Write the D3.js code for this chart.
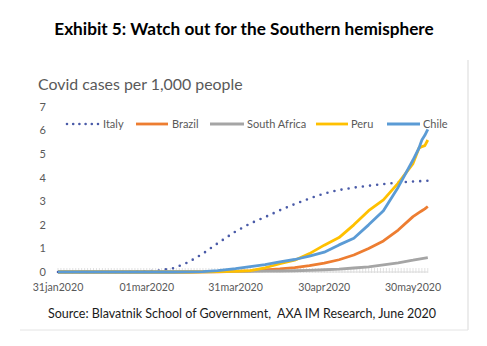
<!DOCTYPE html>
<html>
<head>
<meta charset="utf-8">
<script src="https://cdn.jsdelivr.net/npm/d3@7"></script>
<style>
  body { margin: 0; background: #fff; }
  svg { display: block; font-family: Lato, "Open Sans", sans-serif; }
</style>
</head>
<body>
<div id="chart"></div>
<script>
// dates of the readings (day/month 2020)
const dates = [
  "31/01", "10/02", "20/02", "25/02", "01/03", "05/03", "10/03", "15/03", "20/03", "25/03",
  "31/03", "05/04", "10/04", "15/04", "20/04", "25/04", "30/04", "05/05", "10/05", "15/05",
  "20/05", "25/05", "30/05", "01/06", "02/06", "03/06", "04/06"
];

// cases per 1,000 people
const italy = [
  0, 0, 0, 0.005, 0.03, 0.064, 0.16, 0.41, 0.78, 1.22,
  1.72, 2.06, 2.33, 2.62, 2.88, 3.12, 3.33, 3.48, 3.58, 3.66,
  3.73, 3.79, 3.84, 3.85, 3.86, 3.86, 3.87
];
const brazil = [
  0, 0, 0, 0, 0, 0, 0, 0, 0.003, 0.011,
  0.03, 0.05, 0.09, 0.13, 0.19, 0.27, 0.38, 0.52, 0.72, 1.0,
  1.32, 1.78, 2.35, 2.52, 2.6, 2.68, 2.78
];
const southAfrica = [
  0, 0, 0, 0, 0, 0, 0, 0.001, 0.003, 0.012,
  0.023, 0.028, 0.034, 0.042, 0.053, 0.07, 0.095, 0.12, 0.17, 0.22,
  0.3, 0.39, 0.5, 0.55, 0.57, 0.59, 0.61
];
const peru = [
  0, 0, 0, 0, 0, 0, 0, 0.001, 0.008, 0.013,
  0.03, 0.06, 0.18, 0.35, 0.5, 0.78, 1.14, 1.46, 2.0, 2.6,
  3.06, 3.77, 4.6, 5.25, 5.32, 5.36, 5.6
];
const chile = [
  0, 0, 0, 0, 0, 0, 0.001, 0.004, 0.02, 0.06,
  0.14, 0.23, 0.31, 0.43, 0.53, 0.67, 0.84, 1.15, 1.43, 2.0,
  2.6, 3.6, 4.75, 5.25, 5.6, 5.8, 6.05
];

const seriesNames = ["Italy", "Brazil", "South Africa", "Peru", "Chile"];
const seriesValues = [italy, brazil, southAfrica, peru, chile];
const colors = ["#4a5ba8", "#ed7d31", "#a5a5a5", "#ffc000", "#5b9bd5"];

const yTicks = [0, 1, 2, 3, 4, 5, 6, 7];
const xTickLabels = ["31jan2020", "01mar2020", "31mar2020", "30apr2020", "30may2020"];

const parseDate = d3.timeParse("%d/%m/%Y");
const days = dates.map(d => parseDate(d + "/2020"));
const xTickDates = [parseDate("31/01/2020"), parseDate("01/03/2020"), parseDate("31/03/2020"),
  parseDate("30/04/2020"), parseDate("30/05/2020")];

const width = 487, height = 346;

const svg = d3.select("#chart")
  .append("svg")
  .attr("width", width)
  .attr("height", height);

// chart frame (only right and bottom edges show)
svg.append("line")
  .attr("x1", 468).attr("x2", 468).attr("y1", 60).attr("y2", 330)
  .attr("stroke", "#d9d9d9").attr("stroke-width", 1);
svg.append("line")
  .attr("x1", 20).attr("x2", 468).attr("y1", 330).attr("y2", 330)
  .attr("stroke", "#e4e4e4").attr("stroke-width", 1);

svg.append("text")
  .attr("x", 244)
  .attr("y", 35)
  .attr("text-anchor", "middle")
  .attr("font-size", "17.2px")
  .attr("font-weight", "bold")
  .attr("fill", "#000")
  .text("Exhibit 5: Watch out for the Southern hemisphere");

svg.append("text")
  .attr("x", 38)
  .attr("y", 90)
  .attr("font-size", "15.9px")
  .attr("fill", "#595959")
  .text("Covid cases per 1,000 people");

const x = d3.scaleTime()
  .domain([xTickDates[0], xTickDates[4]])
  .range([58, 413]);

const y = d3.scaleLinear()
  .domain([0, 7])
  .range([272, 107]);

// y labels
svg.append("g")
  .selectAll("text")
  .data(yTicks)
  .enter()
  .append("text")
  .attr("x", 46)
  .attr("y", d => y(d))
  .attr("dy", "0.35em")
  .attr("text-anchor", "end")
  .attr("font-size", "11px")
  .attr("fill", "#595959")
  .text(d => d);

// x axis line with daily ticks
const lastDay = days[days.length - 1];
const axisG = svg.append("g").attr("transform", `translate(0,${y(0)})`);
axisG.append("line")
  .attr("x1", x(xTickDates[0])).attr("x2", x(lastDay))
  .attr("stroke", "#d9d9d9");
axisG.selectAll("line.tick")
  .data(d3.timeDay.range(xTickDates[0], d3.timeDay.offset(lastDay, 1)))
  .enter()
  .append("line")
  .attr("class", "tick")
  .attr("x1", d => x(d)).attr("x2", d => x(d))
  .attr("y1", -4).attr("y2", 1)
  .attr("stroke", "#d9d9d9")
  .attr("stroke-width", 0.8);

svg.append("g")
  .selectAll("text")
  .data(xTickDates)
  .enter()
  .append("text")
  .attr("x", d => x(d))
  .attr("y", 291)
  .attr("text-anchor", "middle")
  .attr("font-size", "10.6px")
  .attr("fill", "#595959")
  .text((d, i) => xTickLabels[i]);

// series
const line = d3.line()
  .x((d, i) => x(days[i]))
  .y(d => y(d));

const lines = svg.append("g");
seriesValues.forEach((vals, i) => {
  const path = lines.append("path")
    .datum(vals)
    .attr("d", line)
    .attr("fill", "none")
    .attr("stroke", colors[i])
    .attr("stroke-linejoin", "round");
  if (i === 0) {
    path.attr("stroke-width", 2.6)
      .attr("stroke-linecap", "round")
      .attr("stroke-dasharray", "0 7.2");
  } else {
    path.attr("stroke-width", 2.8);
  }
});

// legend
const legendItems = [
  { x1: 67, x2: 98, tx: 103 },
  { x1: 136, x2: 168, tx: 172 },
  { x1: 210, x2: 244, tx: 247 },
  { x1: 316, x2: 348, tx: 351 },
  { x1: 387, x2: 420, tx: 423 }
];
const legend = svg.append("g").attr("transform", "translate(0,124)");
legendItems.forEach((it, i) => {
  const l = legend.append("line")
    .attr("x1", it.x1).attr("x2", it.x2)
    .attr("stroke", colors[i]);
  if (i === 0) {
    l.attr("stroke-width", 2.6).attr("stroke-linecap", "round").attr("stroke-dasharray", "0 6.2");
  } else {
    l.attr("stroke-width", 2.8);
  }
  legend.append("text")
    .attr("x", it.tx)
    .attr("dy", "0.35em")
    .attr("font-size", "11px")
    .attr("fill", "#595959")
    .text(seriesNames[i]);
});

svg.append("text")
  .attr("x", 242)
  .attr("y", 318)
  .attr("text-anchor", "middle")
  .attr("font-size", "12.5px")
  .attr("fill", "#1a1a1a")
  .style("white-space", "pre")
  .text("Source: Blavatnik School of Government,  AXA IM Research, June 2020");
</script>
</body>
</html>
